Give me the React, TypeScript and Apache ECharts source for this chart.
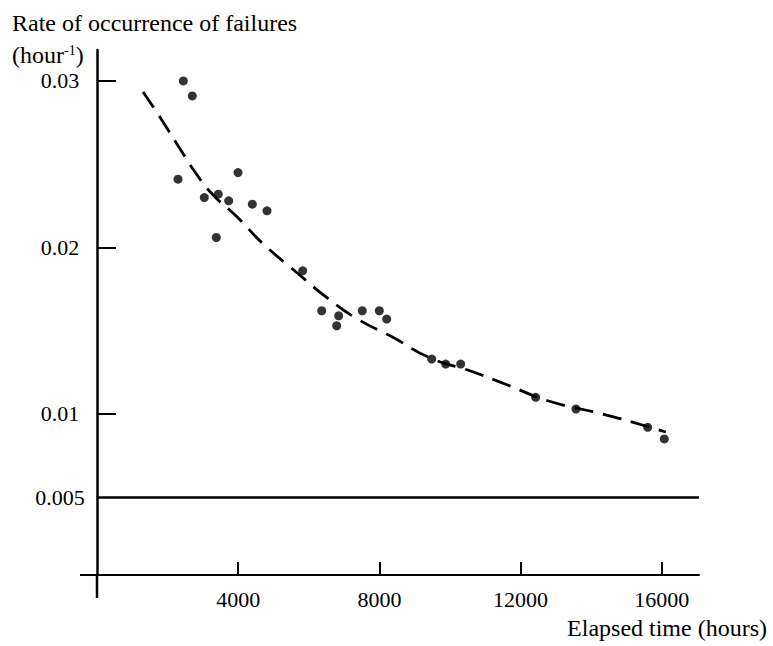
import React, { useEffect, useRef } from "react";
import * as echarts from "echarts";

// Observed failure-rate points [elapsed hours, rate per hour]
const obsHours = [2445, 2700, 2295, 3995, 3040, 3436, 3731, 4400, 4816, 3380, 5828, 6366, 6847, 6791, 7516, 7998, 8207, 9482, 9879, 10304, 12428, 13570, 15601, 16072];
const obsRate = [0.03, 0.0291, 0.0241, 0.0245, 0.023, 0.0232, 0.0228, 0.0226, 0.0222, 0.0206, 0.0186, 0.0162, 0.0159, 0.0153, 0.0162, 0.0162, 0.0157, 0.0133, 0.013, 0.013, 0.011, 0.0103, 0.0092, 0.0085];

// Fitted curve (dashed)
const fitHours = [1305, 1816, 2355, 2837, 3291, 3972, 4681, 5674, 6525, 7376, 8369, 9447, 10582, 11632, 12795, 14327, 15547, 16114];
const fitRate = [0.02934, 0.02772, 0.02592, 0.02435, 0.02315, 0.02183, 0.02027, 0.01847, 0.01697, 0.01571, 0.01462, 0.01336, 0.01258, 0.01174, 0.01078, 0.01, 0.00928, 0.00892];

const xTicks = [4000, 8000, 12000, 16000];
const yLabels = [0.005, 0.01, 0.02, 0.03];
const yTicks = [0.01, 0.02, 0.03];
const thresholdRate = 0.005;

const FONT = "'Liberation Serif', 'Times New Roman', serif";

export default function App() {
  const ref = useRef<HTMLDivElement>(null);
  useEffect(() => {
    if (!ref.current) return;
    const chart = echarts.init(ref.current, null, { renderer: "svg" });
    const gridLeft = 97;
    const gridTop = 50;
    const gridBottom = 71;
    const H = 646;
    const axisY = H - gridBottom;
    chart.setOption({
      animation: false,
      backgroundColor: "#fff",
      textStyle: { fontFamily: FONT, color: "#000" },
      grid: { left: gridLeft, right: 74, top: gridTop, bottom: gridBottom, containLabel: false },
      xAxis: {
        type: "value",
        min: 0,
        max: 17055,
        interval: 4000,
        splitLine: { show: false },
        axisLine: { show: true, onZero: false, lineStyle: { color: "#000", width: 2 } },
        axisTick: { show: true, inside: true, length: 13, lineStyle: { color: "#000", width: 2 }, customValues: xTicks },
        axisLabel: {
          show: true,
          color: "#000",
          fontFamily: FONT,
          fontSize: 22,
          margin: 13,
          customValues: xTicks,
          formatter: (v: number) => String(v),
        },
      },
      yAxis: {
        type: "value",
        min: 0.00033,
        max: 0.03186,
        splitLine: { show: false },
        axisLine: { show: true, onZero: false, lineStyle: { color: "#000", width: 2.5 } },
        axisTick: { show: true, inside: true, length: 19, lineStyle: { color: "#000", width: 2 }, customValues: yTicks },
        axisLabel: {
          show: true,
          color: "#000",
          fontFamily: FONT,
          fontSize: 22,
          align: "center",
          margin: 37,
          customValues: yLabels,
          formatter: (v: number) => String(v),
        },
      },
      graphic: [
        {
          type: "text",
          left: 12,
          top: 11,
          style: { text: "Rate of occurrence of failures", fontFamily: FONT, fontSize: 24, fill: "#000" },
        },
        {
          type: "text",
          left: 12,
          top: 43,
          style: {
            text: "(hour{sup|-1})",
            fontFamily: FONT,
            fontSize: 24,
            fill: "#000",
            rich: { sup: { fontFamily: FONT, fontSize: 14, verticalAlign: "top", padding: [0, 0, 10, 0], fill: "#000" } },
          },
        },
        {
          type: "text",
          right: 6,
          top: 616,
          style: { text: "Elapsed time (hours)", fontFamily: FONT, fontSize: 24, fill: "#000" },
        },
        {
          type: "line",
          shape: { x1: gridLeft, y1: axisY, x2: gridLeft, y2: axisY + 23 },
          style: { stroke: "#000", lineWidth: 2.5 },
        },
        {
          type: "line",
          shape: { x1: 80, y1: axisY, x2: gridLeft, y2: axisY },
          style: { stroke: "#000", lineWidth: 2 },
        },
      ],
      series: [
        {
          type: "line",
          data: fitHours.map((h, i) => [h, fitRate[i]]),
          smooth: true,
          showSymbol: false,
          lineStyle: { color: "#000", width: 2.8, type: [19, 10] },
          silent: true,
          z: 2,
        },
        {
          type: "scatter",
          data: obsHours.map((h, i) => [h, obsRate[i]]),
          symbol: "circle",
          symbolSize: 9,
          itemStyle: { color: "#000" },
          z: 3,
          markLine: {
            silent: true,
            symbol: "none",
            precision: 4,
            label: { show: false },
            lineStyle: { color: "#000", width: 2.5, type: "solid" },
            data: [{ yAxis: thresholdRate }],
          },
        },
      ],
    });
    return () => chart.dispose();
  }, []);
  return <div ref={ref} style={{ position: "fixed", left: 0, top: 0, width: 773, height: 646 }} />;
}
